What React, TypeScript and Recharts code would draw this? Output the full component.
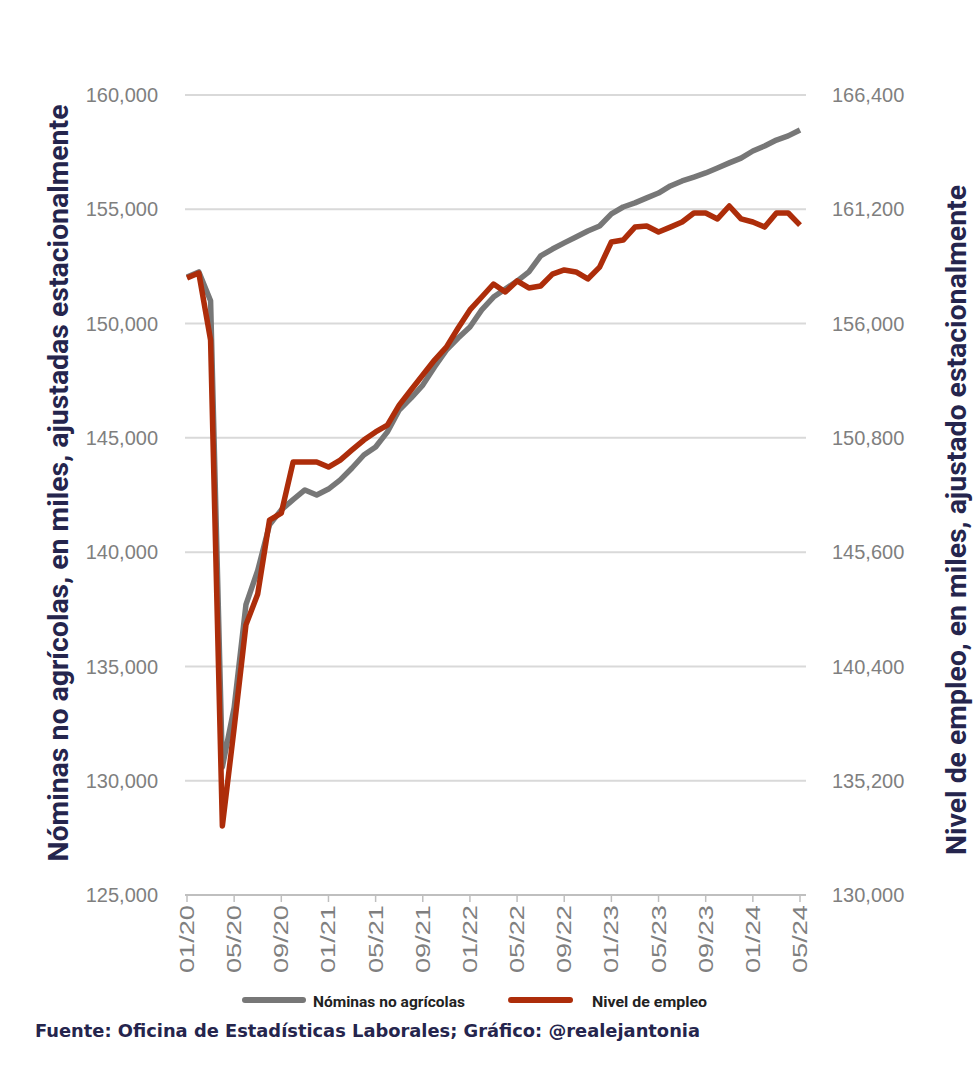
import React from 'react';
import { LineChart, Line, XAxis, YAxis, CartesianGrid } from 'recharts';

const months = [
  '01/20', '02/20', '03/20', '04/20', '05/20', '06/20', '07/20', '08/20', '09/20', '10/20', '11/20', '12/20',
  '01/21', '02/21', '03/21', '04/21', '05/21', '06/21', '07/21', '08/21', '09/21', '10/21', '11/21', '12/21',
  '01/22', '02/22', '03/22', '04/22', '05/22', '06/22', '07/22', '08/22', '09/22', '10/22', '11/22', '12/22',
  '01/23', '02/23', '03/23', '04/23', '05/23', '06/23', '07/23', '08/23', '09/23', '10/23', '11/23', '12/23',
  '01/24', '02/24', '03/24', '04/24', '05/24',
];

// Nóminas no agrícolas (eje izquierdo)
const nominas = [
  152040, 152260, 151000, 130600, 133200, 137700, 139200, 141200, 141850, 142300, 142720, 142500,
  142760, 143160, 143680, 144250, 144600, 145260, 146220, 146740, 147310, 148100, 148840, 149370,
  149850, 150600, 151160, 151510, 151860, 152260, 152960, 153260, 153530, 153790, 154050, 154270,
  154800, 155100, 155280, 155500, 155710, 156020, 156240, 156410, 156590, 156810, 157030, 157240,
  157550, 157770, 158030, 158210, 158470,
];

// Nivel de empleo (eje derecho)
const empleo = [
  158070, 158300, 155250, 133140, 137600, 142290, 143700, 147060, 147380, 149700, 149700, 149700,
  149470, 149790, 150250, 150700, 151070, 151380, 152290, 152980, 153660, 154340, 154930, 155800,
  156620, 157210, 157800, 157440, 157940, 157620, 157710, 158250, 158440, 158350, 158030, 158570,
  159710, 159800, 160390, 160440, 160170, 160390, 160620, 161030, 161030, 160760, 161350, 160760,
  160620, 160390, 161030, 161030, 160480,
];

const leftTicks = [125000, 130000, 135000, 140000, 145000, 150000, 155000, 160000];
const rightTicks = [130000, 135200, 140400, 145600, 150800, 156000, 161200, 166400];

const GREY = '#777777';
const RED = '#ad2d0a';
const NAVY = '#25254d';
const TICK = '#7f7f7f';

const data = months.map((m, i) => ({ m, nominas: nominas[i], empleo: empleo[i] }));

const fmt = (v: number) => v.toLocaleString('en-US');

const MonthTick = (props: any) => {
  const { x, y, payload } = props;
  return (
    <text
      x={x}
      y={y}
      transform={`rotate(-90, ${x}, ${y})`}
      textAnchor="end"
      dominantBaseline="central"
      fill={TICK}
      fontSize={20}
      fontFamily="Liberation Sans, Arial, sans-serif"
      textLength={68}
      lengthAdjust="spacingAndGlyphs"
    >
      {payload.value}
    </text>
  );
};

export default function App() {
  return (
    <div style={{ position: 'absolute', left: 0, top: 0, width: 975, height: 1071, background: '#fff' }}>
      <LineChart
        width={975}
        height={1071}
        data={data}
        margin={{ top: 95, right: 0, left: 0, bottom: 86 }}
      >
        <CartesianGrid yAxisId="left" vertical={false} stroke="#d9d9d9" strokeWidth={2} />
        <XAxis
          dataKey="m"
          interval={3}
          height={90}
          padding={{ left: 2, right: 6 }}
          axisLine={{ stroke: '#bfbfbf', strokeWidth: 2 }}
          tickLine={{ stroke: '#bfbfbf', strokeWidth: 1.5 }}
          tickSize={7}
          tickMargin={3}
          tick={<MonthTick />}
        />
        <YAxis
          yAxisId="left"
          width={185}
          domain={[125000, 160000]}
          ticks={leftTicks}
          tickFormatter={fmt}
          axisLine={false}
          tickLine={false}
          tickSize={0}
          tickMargin={27}
          tick={{ fill: TICK, fontSize: 20, fontFamily: 'Liberation Sans, Arial, sans-serif' }}
        />
        <YAxis
          yAxisId="right"
          orientation="right"
          width={169}
          domain={[130000, 166400]}
          ticks={rightTicks}
          tickFormatter={fmt}
          axisLine={false}
          tickLine={false}
          tickSize={0}
          tickMargin={26}
          tick={{ fill: TICK, fontSize: 20, fontFamily: 'Liberation Sans, Arial, sans-serif' }}
        />
        <Line
          yAxisId="left"
          type="linear"
          dataKey="nominas"
          stroke={GREY}
          strokeWidth={5.5}
          strokeLinejoin="round"
          dot={false}
          isAnimationActive={false}
        />
        <Line
          yAxisId="right"
          type="linear"
          dataKey="empleo"
          stroke={RED}
          strokeWidth={5.5}
          strokeLinejoin="round"
          dot={false}
          isAnimationActive={false}
        />
      </LineChart>

      <svg
        width={975}
        height={1071}
        style={{ position: 'absolute', left: 0, top: 0, pointerEvents: 'none' }}
      >
        <text
          transform="translate(68, 483) rotate(-90)"
          textAnchor="middle"
          fill={NAVY}
          fontSize={27}
          fontWeight="bold"
          fontFamily="Roboto, Liberation Sans, sans-serif"
          textLength={757}
          lengthAdjust="spacingAndGlyphs"
        >
          Nóminas no agrícolas, en miles, ajustadas estacionalmente
        </text>
        <text
          transform="translate(966, 520) rotate(-90)"
          textAnchor="middle"
          fill={NAVY}
          fontSize={27}
          fontWeight="bold"
          fontFamily="Roboto, Liberation Sans, sans-serif"
          textLength={670}
          lengthAdjust="spacingAndGlyphs"
        >
          Nivel de empleo, en miles, ajustado estacionalmente
        </text>

        <line x1={245} y1={1000} x2={303} y2={1000} stroke={GREY} strokeWidth={6} strokeLinecap="round" />
        <text x={313} y={1007} fill="#222" fontSize={14} fontWeight="bold" fontFamily="Roboto, sans-serif"
          textLength={152} lengthAdjust="spacingAndGlyphs">
          Nóminas no agrícolas
        </text>
        <line x1={511} y1={1000} x2={570} y2={1000} stroke={RED} strokeWidth={6} strokeLinecap="round" />
        <text x={592} y={1007} fill="#222" fontSize={14} fontWeight="bold" fontFamily="Roboto, sans-serif"
          textLength={115} lengthAdjust="spacingAndGlyphs">
          Nivel de empleo
        </text>

        <text x={35} y={1037} fill={NAVY} fontSize={17} fontWeight="bold"
          fontFamily="DejaVu Sans, Verdana, sans-serif" textLength={665} lengthAdjust="spacingAndGlyphs">
          Fuente: Oficina de Estadísticas Laborales; Gráfico: @realejantonia
        </text>
      </svg>
    </div>
  );
}
